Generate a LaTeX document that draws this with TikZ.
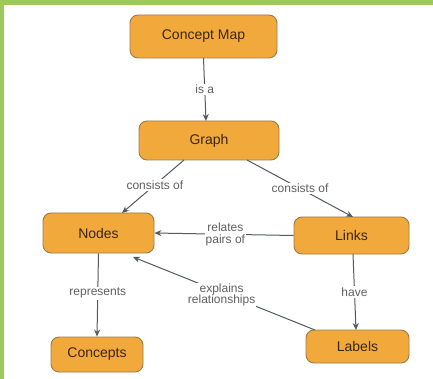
\documentclass[tikz,border=0pt]{standalone}
\usepackage{fontspec}
\setmainfont{Liberation Sans}
\usetikzlibrary{arrows.meta}
\definecolor{nodefill}{HTML}{F2A93B}
\definecolor{nodeborder}{HTML}{9C7A4C}
\definecolor{nodetext}{HTML}{3A2614}
\definecolor{linkgray}{HTML}{555A60}
\definecolor{labelgray}{HTML}{606060}
\definecolor{frame}{HTML}{9CC95A}
\tikzset{
  concept/.style={draw=nodeborder, line width=0.9pt, fill=nodefill, rounded corners=8pt,
    text=nodetext, font=\fontsize{14}{16}\selectfont, inner sep=0pt},
  lnk/.style={draw=linkgray, line width=1pt, -{Stealth[length=7pt,width=6pt]}},
  lbl/.style={fill=white, text=labelgray, font=\fontsize{12}{13.5}\selectfont, inner sep=1.5pt, align=center}
}
\begin{document}
\begin{tikzpicture}[x=1pt,y=-1pt]
\fill[frame] (0,0) rectangle (433,379);
\fill[white] (4,5) rectangle (433,379);
\useasboundingbox (0,0) rectangle (433,379);
\node[concept, minimum width=147pt, minimum height=43pt] (cm) at (203.5,36.5) {Concept Map};
\node[concept, minimum width=140pt, minimum height=39pt] (gr) at (209,140.5) {Graph};
\node[concept, minimum width=111pt, minimum height=40pt] (no) at (98.5,233) {Nodes};
\node[concept, minimum width=115pt, minimum height=37pt] (li) at (351.5,235.5) {Links};
\node[concept, minimum width=92pt, minimum height=35pt] (co) at (97,354.5) {Concepts};
\node[concept, minimum width=103pt, minimum height=33pt] (la) at (357.5,346.5) {Labels};
\coordinate (gra) at (184,160);
\coordinate (grb) at (247,160);
\coordinate (noa) at (122,213);
\coordinate (lia) at (353,217);
\coordinate (nob) at (133,257);
\coordinate (laa) at (315,330);
\coordinate (lib) at (353,254);
\coordinate (lab) at (356,330);
\coordinate (cmb) at (203.5,58);
\coordinate (grt) at (206,121);
\draw[lnk] (cmb) -- node[lbl, pos=0.5] (l1) {is a} (grt);
\draw[lnk] (gra) -- node[lbl, pos=0.47] (l2) {consists of} (noa);
\draw[lnk] (grb) -- node[lbl, pos=0.5] (l3) {consists of} (lia);
\draw[lnk] (li.west) -- node[lbl, pos=0.49, inner sep=1pt] (l4) {relates\\[-2pt]pairs of} (no.east);
\draw[lnk] (no.south) -- node[lbl, pos=0.48] (l5) {represents} (co.north);
\draw[lnk] (laa) -- node[lbl, pos=0.48, xshift=-6pt, inner sep=1pt] (l6) {explains\\[-2pt]relationships} (nob);
\draw[lnk] (lib) -- node[lbl, pos=0.5] (l7) {have} (lab);
\end{tikzpicture}
\end{document}
